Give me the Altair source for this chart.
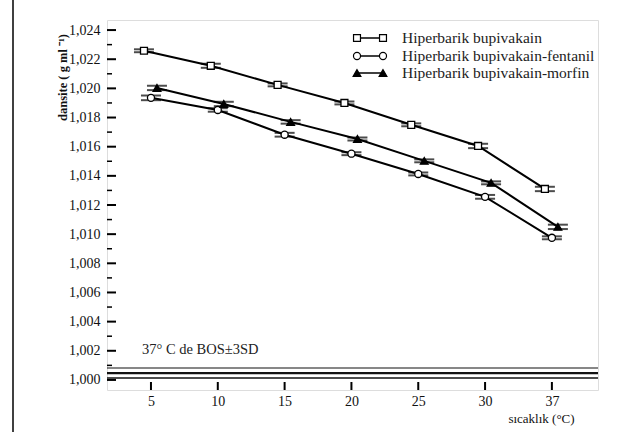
import altair as alt
import pandas as pd

# ---------------- data ----------------
temps = [5, 10, 15, 20, 25, 30, 35]          # equally spaced positions
temp_labels = ["5", "10", "15", "20", "25", "30", "37"]

series_names = [
    "Hiperbarik bupivakain",
    "Hiperbarik bupivakain-fentanil",
    "Hiperbarik bupivakain-morfin",
]
bup = [1.02258, 1.02155, 1.02024, 1.01900, 1.01750, 1.01605, 1.01310]
bup_sd = [0.00010, 0.00014, 0.00010, 0.00010, 0.00010, 0.00015, 0.00015]
fent = [1.01935, 1.01852, 1.01682, 1.01552, 1.01413, 1.01256, 1.00975]
fent_sd = [0.00016, 0.00012, 0.00013, 0.00010, 0.00010, 0.00013, 0.00010]
morf = [1.02003, 1.01893, 1.01770, 1.01653, 1.01503, 1.01352, 1.01050]
morf_sd = [0.00015, 0.00015, 0.00012, 0.00010, 0.00010, 0.00010, 0.00015]

bos_lines = [1.00082, 1.00047, 1.00013]
bos_widths = [1.2, 2.2, 1.6]
bos_label = "37° C de BOS±3SD"

y_major = [1.000, 1.002, 1.004, 1.006, 1.008, 1.010, 1.012,
           1.014, 1.016, 1.018, 1.020, 1.022, 1.024]
y_minor = [1.001, 1.003, 1.005, 1.007, 1.009, 1.011, 1.013,
           1.015, 1.017, 1.019, 1.021, 1.023]

y_title = "dansite ( g ml ⁻¹)"
x_title = "sıcaklık (°C)"

# ---------------- styles ----------------
FONT = "Liberation Serif"
W, H = 491, 370
styles = {
    series_names[0]: dict(shape="square", fill="white", offset=-7, size=48),
    series_names[1]: dict(shape="circle", fill="white", offset=0, size=50),
    series_names[2]: dict(shape="triangle-up", fill="black", offset=6, size=60),
}

rows = []
for name, vals, sds in zip(series_names, [bup, fent, morf], [bup_sd, fent_sd, morf_sd]):
    for t, v, s in zip(temps, vals, sds):
        rows.append({"series": name, "t": t, "v": v, "lo": v - s, "hi": v + s})
df = pd.DataFrame(rows)

xscale = alt.Scale(domain=[1.71, 38.45], nice=False, zero=False)
yscale = alt.Scale(domain=[0.99931, 1.02469], nice=False, zero=False)

label_arr = "[" + ",".join("'%s'" % l for l in temp_labels) + "]"
xaxis = alt.Axis(values=temps, labelExpr=label_arr + "[datum.value/5-1]",
                 ticks=False, domain=False, grid=False, labelPadding=4,
                 labelOverlap=False,
                 labelFont=FONT, labelFontSize=14, labelColor="#111",
                 title=x_title, titleFont=FONT, titleFontSize=13,
                 titleFontWeight="normal", titleColor="#111",
                 titleX=434, titleY=28, titleAlign="center",
                 titleBaseline="middle", titleAnchor="start")
yaxis = alt.Axis(values=y_major,
                 labelExpr="replace(format(datum.value, '.3f'), '.', ',')",
                 ticks=False, domain=False, grid=False, labelPadding=7,
                 labelOverlap=False,
                 labelFont=FONT, labelFontSize=14, labelColor="#111",
                 title=y_title, titleFont=FONT, titleFontSize=12.5,
                 titleFontWeight="bold", titleColor="#111",
                 titleAngle=-90, titleX=-45, titleY=57,
                 titleAlign="center", titleBaseline="middle")


def Yq(field):
    return alt.Y(field, scale=yscale, axis=yaxis)


def Xq(field):
    return alt.X(field, scale=xscale, axis=xaxis)


base = alt.Chart(df)
X = Xq("t:Q")
Y = Yq("v:Q")

layers = []

# BOS reference lines
for yv, sw in zip(bos_lines, bos_widths):
    layers.append(
        alt.Chart(pd.DataFrame({"y": [yv]})).mark_rule(color="#111", strokeWidth=sw)
        .encode(y=Yq("y:Q"), x=alt.value(0), x2=alt.value(W))
    )
layers.append(
    alt.Chart(pd.DataFrame({"txt": [bos_label]})).mark_text(
        font=FONT, fontSize=14.5, color="#222", align="left", baseline="middle")
    .encode(text="txt:N", x=alt.value(35), y=alt.value(330))
)

# inside ticks
layers.append(
    alt.Chart(pd.DataFrame({"y": y_major})).mark_rule(color="black", strokeWidth=2)
    .encode(y=Yq("y:Q"), x=alt.value(0), x2=alt.value(9))
)
layers.append(
    alt.Chart(pd.DataFrame({"y": y_minor})).mark_rule(color="black", strokeWidth=1.5)
    .encode(y=Yq("y:Q"), x=alt.value(0), x2=alt.value(5))
)
layers.append(
    alt.Chart(pd.DataFrame({"t": temps})).mark_rule(color="black", strokeWidth=2)
    .encode(x=Xq("t:Q"), y=alt.value(H), y2=alt.value(H - 8))
)

for name in series_names:
    st = styles[name]
    sub = base.transform_filter(alt.datum.series == name)
    off = alt.value(st["offset"])
    layers.append(sub.mark_line(color="black", strokeWidth=2)
                  .encode(x=X, y=Y, xOffset=off))
    layers.append(sub.mark_rule(color="black", strokeWidth=1.5)
                  .encode(x=X, y=Yq("lo:Q"), y2="hi:Q", xOffset=off))
    for f in ["lo", "hi"]:
        layers.append(sub.mark_tick(color="black", orient="horizontal", size=20, thickness=2)
                      .encode(x=X, y=Yq(f + ":Q"), xOffset=off))
    layers.append(sub.mark_point(shape=st["shape"], filled=True, fill=st["fill"],
                                 stroke="black", strokeWidth=1.3, size=st["size"], opacity=1)
                  .encode(x=X, y=Y, xOffset=off))

# legend (annotation)
leg_y = [18, 36, 53]
for name, ly in zip(series_names, leg_y):
    st = styles[name]
    ld = pd.DataFrame({"name": [name]})
    layers.append(alt.Chart(ld).mark_rule(color="black", strokeWidth=1.5)
                  .encode(x=alt.value(250), x2=alt.value(276), y=alt.value(ly)))
    for lx in [250, 276]:
        layers.append(alt.Chart(ld).mark_point(shape=st["shape"], filled=True, fill=st["fill"],
                                               stroke="black", strokeWidth=1.2,
                                               size=st["size"], opacity=1)
                      .encode(x=alt.value(lx), y=alt.value(ly)))
    layers.append(alt.Chart(ld).mark_text(font=FONT, fontSize=15.5, color="#222",
                                          align="left", baseline="middle")
                  .encode(text="name:N", x=alt.value(295), y=alt.value(ly)))

# outer left border line of the figure
layers.append(alt.Chart(pd.DataFrame({"a": [0]})).mark_rule(color="black", strokeWidth=1.5)
              .encode(x=alt.value(-94), y=alt.value(-20), y2=alt.value(432)))

chart = alt.layer(*layers).properties(
    width=W, height=H,
    autosize=alt.AutoSizeParams(type="none"),
    padding={"left": 107, "top": 20, "right": 35, "bottom": 42},
).configure_view(stroke="black", strokeWidth=2).configure(background="white")

chart.save("out.html", embed_options={"renderer": "svg", "actions": False})
